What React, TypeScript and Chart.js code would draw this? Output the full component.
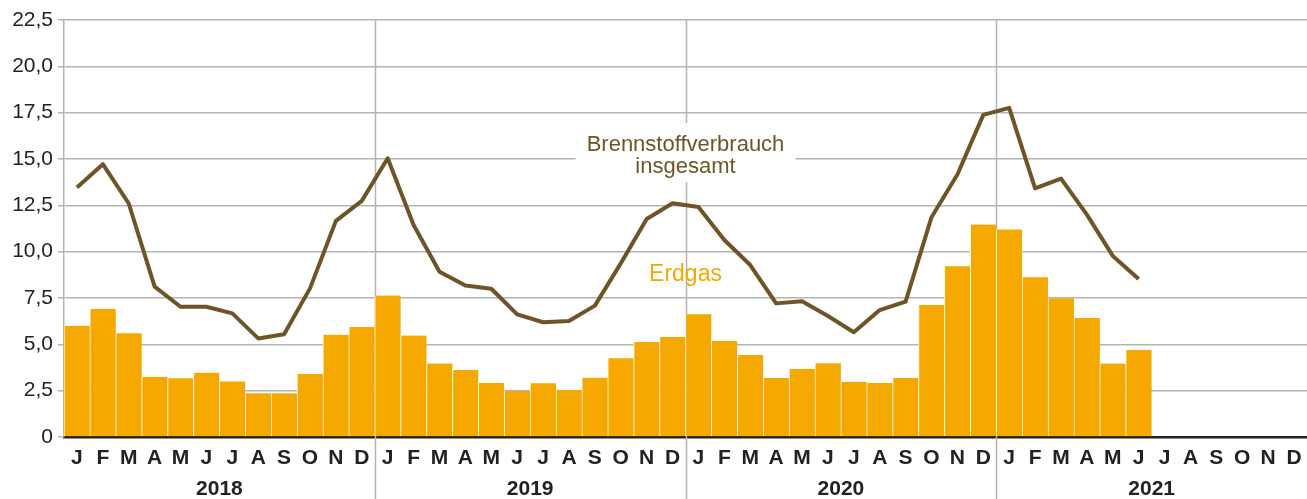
import React, { useEffect, useRef } from 'react';
import { Chart, registerables } from 'chart.js';
Chart.register(...registerables);

const years = ['2018', '2019', '2020', '2021'];
const monthLetters = ['J', 'F', 'M', 'A', 'M', 'J', 'J', 'A', 'S', 'O', 'N', 'D'];
const categories = years.flatMap(() => monthLetters);

const erdgas = [
  6.0, 6.9, 5.6, 3.24, 3.17, 3.47, 3.0, 2.36, 2.36, 3.4, 5.52, 5.94,
  7.63, 5.47, 3.96, 3.62, 2.91, 2.48, 2.9, 2.54, 3.2, 4.25, 5.13, 5.4,
  6.62, 5.18, 4.43, 3.18, 3.67, 3.98, 2.98, 2.91, 3.18, 7.12, 9.21, 11.46,
  11.2, 8.62, 7.48, 6.42, 3.96, 4.7, null, null, null, null, null, null,
];

const brennstoff = [
  13.46, 14.72, 12.6, 8.11, 7.03, 7.03, 6.67, 5.32, 5.54, 8.02, 11.66, 12.74,
  15.04, 11.44, 8.92, 8.17, 8.0, 6.62, 6.19, 6.26, 7.09, 9.37, 11.76, 12.61,
  12.41, 10.63, 9.28, 7.21, 7.32, 6.53, 5.65, 6.85, 7.3, 11.86, 14.16, 17.38,
  17.76, 13.42, 13.94, 12.0, 9.77, 8.53, null, null, null, null, null, null,
];

const yMin = 0;
const yMax = 22.5;
const yStep = 2.5;

const BAR = '#f5a800';
const LINE = '#6e5527';
const GRID = '#b4b4b4';
const TEXT = '#222222';
const FONT = "'Liberation Sans', Arial, sans-serif";

const overlay = {
  id: 'overlay',
  beforeDatasetsDraw(chart: any) {
    const { ctx, chartArea, scales } = chart;
    const x = scales.x;
    const y = scales.y;
    const half = (x.getPixelForValue(1) - x.getPixelForValue(0)) / 2;
    ctx.save();
    ctx.strokeStyle = GRID;
    ctx.lineWidth = 1.5;
    for (let k = 1; k < years.length; k++) {
      const px = Math.round(x.getPixelForValue(k * 12) - half) + 0.5;
      ctx.beginPath();
      ctx.moveTo(px, chartArea.top);
      ctx.lineTo(px, chart.height);
      ctx.stroke();
    }
    // label box for total line
    const cx = x.getPixelForValue(24) - half;
    const boxTop = y.getPixelForValue(16.95);
    const boxBottom = y.getPixelForValue(13.75);
    ctx.fillStyle = '#ffffff';
    ctx.fillRect(cx - 110, boxTop, 220, boxBottom - boxTop);
    ctx.fillStyle = LINE;
    ctx.font = `22px ${FONT}`;
    ctx.textAlign = 'center';
    ctx.textBaseline = 'middle';
    ctx.fillText('Brennstoffverbrauch', cx, y.getPixelForValue(15.76));
    ctx.fillText('insgesamt', cx, y.getPixelForValue(14.57));
    ctx.fillStyle = BAR;
    ctx.font = `23px ${FONT}`;
    ctx.fillText('Erdgas', cx, y.getPixelForValue(8.74));
    ctx.restore();
  },
  afterDraw(chart: any) {
    const { ctx, scales } = chart;
    const x = scales.x;
    ctx.save();
    ctx.fillStyle = TEXT;
    ctx.font = `bold 21px ${FONT}`;
    ctx.textAlign = 'center';
    ctx.textBaseline = 'middle';
    years.forEach((yr, k) => {
      const cx = (x.getPixelForValue(k * 12 + 5) + x.getPixelForValue(k * 12 + 6)) / 2;
      ctx.fillText(yr, cx, 489);
    });
    ctx.restore();
  },
};

export default function App() {
  const ref = useRef<HTMLCanvasElement | null>(null);
  useEffect(() => {
    if (!ref.current) return;
    const chart = new Chart(ref.current, {
      type: 'bar',
      data: {
        labels: categories,
        datasets: [
          {
            type: 'line',
            label: 'Brennstoffverbrauch insgesamt',
            data: brennstoff,
            borderColor: LINE,
            borderWidth: 4,
            pointRadius: 0,
            tension: 0,
            borderJoinStyle: 'round',
            order: 0,
          } as any,
          {
            type: 'bar',
            label: 'Erdgas',
            data: erdgas,
            backgroundColor: BAR,
            borderColor: '#fff4dc',
            borderWidth: { left: 1, right: 0, top: 0, bottom: 0 },
            borderSkipped: false,
            categoryPercentage: 1,
            barPercentage: 1,
            order: 1,
          } as any,
        ],
      },
      options: {
        animation: false,
        responsive: true,
        maintainAspectRatio: false,
        layout: { padding: { top: 20, right: 0, left: 0, bottom: 0 } },
        plugins: { legend: { display: false }, tooltip: { enabled: false } },
        scales: {
          x: {
            type: 'category',
            offset: true,
            grid: { display: false, drawTicks: false },
            border: { display: true, color: TEXT, width: 2.5 },
            ticks: {
              color: TEXT,
              font: { family: FONT, size: 21, weight: 'bold' },
              padding: 9,
              autoSkip: false,
              maxRotation: 0,
            },
            afterFit: (s: any) => { s.height = 62; s.paddingLeft = 0; s.paddingRight = 0; },
          },
          y: {
            min: yMin,
            max: yMax,
            grid: { color: GRID, lineWidth: 1.5, tickLength: 6, drawTicks: true },
            border: { display: true, color: GRID, width: 1.5 },
            ticks: {
              stepSize: yStep,
              color: TEXT,
              font: { family: FONT, size: 21 },
              padding: 5,
              callback: (v: any) => (Number(v) === 0 ? '0' : Number(v).toFixed(1).replace('.', ',')),
            },
            afterFit: (s: any) => { s.width = 64; },
          },
        },
      },
      plugins: [overlay],
    });
    return () => chart.destroy();
  }, []);
  return (
    <div style={{ position: 'fixed', left: 0, top: 0, width: 1307, height: 499, background: '#fff' }}>
      <canvas ref={ref} />
    </div>
  );
}
